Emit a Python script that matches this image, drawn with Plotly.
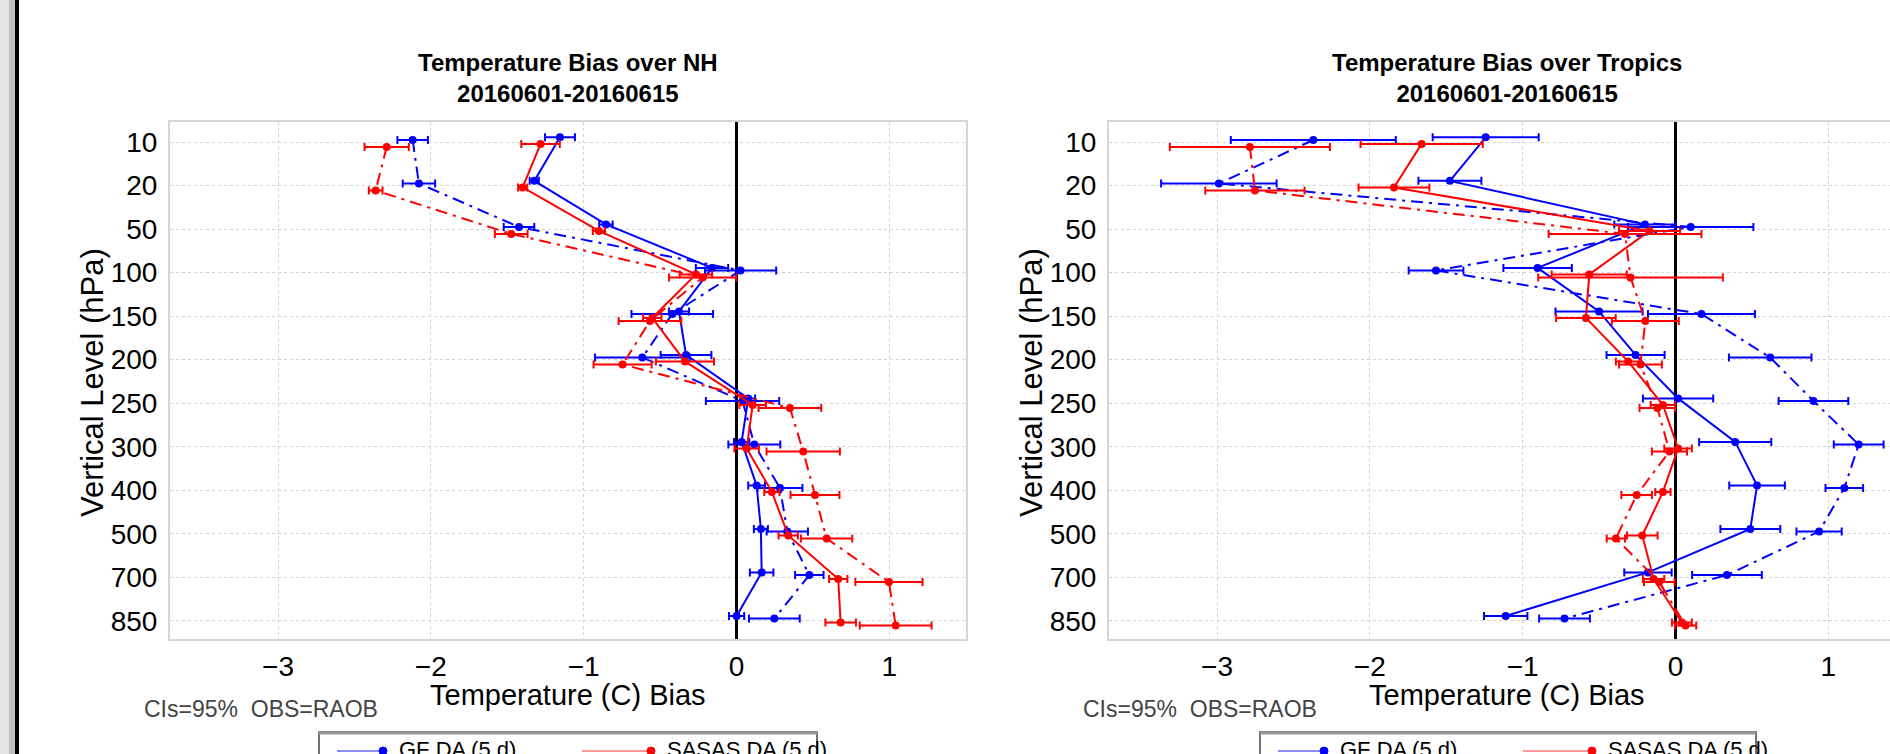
import plotly.graph_objects as go

W, H = 1890, 754

levels = ["10", "20", "50", "100", "150", "200", "250", "300", "400", "500", "700", "850"]
xtick_vals = [-3, -2, -1, 0, 1]

# ---- NH panel ----
nh_gf_5d = [-1.155, -1.323, -0.854, -0.16, -0.376, -0.33, 0.077, 0.034, 0.132, 0.16, 0.165, 0.001]
nh_gf_5d_ci = [0.098, 0.03, 0.044, 0.106, 0.066, 0.166, 0.045, 0.05, 0.055, 0.046, 0.077, 0.05]
nh_gf_1d = [-2.119, -2.078, -1.423, 0.027, -0.42, -0.616, 0.04, 0.117, 0.285, 0.333, 0.477, 0.248]
nh_gf_1d_ci = [0.1, 0.106, 0.1, 0.233, 0.267, 0.31, 0.24, 0.17, 0.147, 0.135, 0.093, 0.166]
nh_sas_5d = [-1.282, -1.399, -0.9, -0.265, -0.551, -0.337, 0.106, 0.067, 0.232, 0.339, 0.666, 0.682]
nh_sas_5d_ci = [0.126, 0.03, 0.04, 0.106, 0.06, 0.19, 0.087, 0.08, 0.05, 0.063, 0.06, 0.1]
nh_sas_1d = [-2.289, -2.361, -1.474, -0.221, -0.566, -0.745, 0.35, 0.437, 0.514, 0.59, 0.998, 1.042]
nh_sas_1d_ci = [0.145, 0.045, 0.107, 0.22, 0.205, 0.19, 0.205, 0.24, 0.16, 0.168, 0.22, 0.235]

# ---- Tropics panel ----
tr_gf_5d = [-1.242, -1.476, -0.2, -0.902, -0.5, -0.261, 0.017, 0.391, 0.534, 0.49, -0.18, -1.111]
tr_gf_5d_ci = [0.347, 0.206, 0.2, 0.224, 0.285, 0.19, 0.23, 0.236, 0.182, 0.196, 0.155, 0.142]
tr_gf_1d = [-2.37, -2.988, 0.1, -1.567, 0.17, 0.62, 0.903, 1.199, 1.105, 0.94, 0.337, -0.726]
tr_gf_1d_ci = [0.54, 0.378, 0.41, 0.179, 0.35, 0.27, 0.228, 0.163, 0.123, 0.148, 0.228, 0.166]
tr_sas_5d = [-1.661, -1.842, -0.17, -0.564, -0.586, -0.31, -0.082, 0.017, -0.082, -0.217, -0.143, 0.042]
tr_sas_5d_ci = [0.4, 0.232, 0.2, 0.246, 0.195, 0.08, 0.08, 0.09, 0.05, 0.1, 0.07, 0.065]
tr_sas_1d = [-2.785, -2.752, -0.33, -0.294, -0.197, -0.229, -0.118, -0.039, -0.254, -0.39, -0.106, 0.066]
tr_sas_1d_ci = [0.524, 0.325, 0.5, 0.604, 0.219, 0.14, 0.117, 0.115, 0.1, 0.06, 0.1, 0.07]

panel_titles = ["Temperature Bias over NH", "Temperature Bias over Tropics"]
period = "20160601-20160615"
x_title = "Temperature (C) Bias"
y_title = "Vertical Level (hPa)"
note = "CIs=95%\u00a0 OBS=RAOB"
legend_names = ["GF DA (5 d)", "SASAS DA (5 d)"]

FONT = "Liberation Sans, Arial, Helvetica, sans-serif"
DASHDOT = "12px,6px,3px,6px"


def px(x):
    return x / W


def py(y):
    return 1 - y / H


fig = go.Figure()

panels = [
    ("", [(nh_gf_5d, nh_gf_5d_ci, "GF DA (5 d)", "#0000ff", "solid", -0.11),
          (nh_gf_1d, nh_gf_1d_ci, "GF DA (1 d)", "#0000ff", DASHDOT, -0.05),
          (nh_sas_5d, nh_sas_5d_ci, "SASAS DA (5 d)", "#ff0000", "solid", 0.04),
          (nh_sas_1d, nh_sas_1d_ci, "SASAS DA (1 d)", "#ff0000", DASHDOT, 0.11)]),
    ("2", [(tr_gf_5d, tr_gf_5d_ci, "GF DA (5 d)", "#0000ff", "solid", -0.11),
           (tr_gf_1d, tr_gf_1d_ci, "GF DA (1 d)", "#0000ff", DASHDOT, -0.05),
           (tr_sas_5d, tr_sas_5d_ci, "SASAS DA (5 d)", "#ff0000", "solid", 0.04),
           (tr_sas_1d, tr_sas_1d_ci, "SASAS DA (1 d)", "#ff0000", DASHDOT, 0.11)]),
]

for suffix, series in panels:
    for vals, ci, name, color, dash, off in series:
        fig.add_trace(go.Scatter(
            x=vals,
            y=[i + off for i in range(len(levels))],
            mode="lines+markers",
            name=name,
            showlegend=False,
            xaxis="x" + suffix,
            yaxis="y" + suffix,
            line=dict(color=color, width=2, dash=dash),
            marker=dict(color=color, size=8),
            error_x=dict(type="data", array=ci, visible=True, color=color,
                         thickness=2, width=4),
        ))

plot_top, plot_bot = 121.7, 639.0
left_x0, left_x1 = 170.0, 965.5
right_x0 = 1109.0

common_x = dict(
    tickvals=xtick_vals, showgrid=True, gridcolor="#d2d2d2", griddash="dot", gridwidth=1,
    zeroline=True, zerolinecolor="black", zerolinewidth=3,
    showline=True, linecolor="#d6d6d6", linewidth=2,
    ticks="outside", ticklen=1, tickcolor="rgba(0,0,0,0)",
    tickfont=dict(size=28, color="black", family=FONT),
)
common_y = dict(
    tickmode="array", tickvals=list(range(len(levels))), ticktext=levels,
    range=[11.42, -0.47], showgrid=True, gridcolor="#d2d2d2", griddash="dot", gridwidth=1,
    zeroline=False, showline=True, linecolor="#d6d6d6", linewidth=2,
    ticks="outside", ticklen=5, tickcolor="rgba(0,0,0,0)",
    tickfont=dict(size=28, color="black", family=FONT),
    domain=[py(plot_bot), py(plot_top)],
)

fig.update_layout(
    width=W, height=H,
    margin=dict(l=0, r=0, t=0, b=0),
    paper_bgcolor="white", plot_bgcolor="white",
    font=dict(family=FONT, color="black"),
    showlegend=False,
    xaxis=dict(common_x, domain=[px(left_x0), px(left_x1)], range=[-3.707, 1.499],
               anchor="y", mirror=True),
    yaxis=dict(common_y, anchor="x", mirror=True),
    xaxis2=dict(common_x, domain=[px(right_x0), 1.0], range=[-3.707, 1.404],
                anchor="y2", mirror=True),
    yaxis2=dict(common_y, anchor="x2", mirror=False),
)

annotations = []
shapes = []
centers = [(left_x0 + left_x1) / 2, (right_x0 + right_x0 + (left_x1 - left_x0)) / 2]
for k, cx in enumerate(centers):
    x_off = 0 if k == 0 else right_x0 - left_x0
    annotations.append(dict(
        text="<b>%s</b><br><b>%s</b>" % (panel_titles[k], period),
        x=px(cx), y=py(78), xref="paper", yref="paper", xanchor="center", yanchor="middle",
        showarrow=False, font=dict(size=24, color="black", family=FONT)))
    annotations.append(dict(
        text=x_title, x=px(cx), y=py(695), xref="paper", yref="paper",
        xanchor="center", yanchor="middle", showarrow=False,
        font=dict(size=29, color="black", family=FONT)))
    annotations.append(dict(
        text=y_title, x=px(92 + x_off), y=py(383), xref="paper", yref="paper",
        xanchor="center", yanchor="middle", textangle=-90, showarrow=False,
        font=dict(size=31, color="black", family=FONT)))
    annotations.append(dict(
        text=note, x=px(142 + x_off), y=py(709), xref="paper", yref="paper",
        xanchor="left", yanchor="middle", showarrow=False,
        font=dict(size=23, color="#444444", family=FONT)))

    # legend box (cut by the bottom edge)
    bx0 = 319 + (0 if k == 0 else 941)
    bx1 = 817 + (0 if k == 0 else 939)
    shapes.append(dict(type="rect", xref="paper", yref="paper",
                       x0=px(bx0), x1=px(bx1), y0=py(770), y1=py(732),
                       line=dict(color="#444444", width=1.5), fillcolor="white"))
    shapes.append(dict(type="line", xref="paper", yref="paper",
                       x0=px(bx0), x1=px(bx1), y0=py(733), y1=py(733),
                       line=dict(color="#9a9a9a", width=3)))
    items = [(bx0 + 18, bx0 + 64, "#0000ff", "#8c8cff", legend_names[0]),
             (bx0 + 263, bx0 + 332, "#ff0000", "#ff9a9a", legend_names[1])]
    for lx0, lx1, col, lcol, txt in items:
        shapes.append(dict(type="line", xref="paper", yref="paper",
                           x0=px(lx0), x1=px(lx1), y0=py(751), y1=py(751),
                           line=dict(color=lcol, width=2)))
        shapes.append(dict(type="circle", xref="paper", yref="paper",
                           x0=px(lx1 - 4), x1=px(lx1 + 4), y0=py(755), y1=py(747),
                           line=dict(color=col, width=1), fillcolor=col))
        annotations.append(dict(
            text=txt, x=px(lx1 + 14), y=py(735), xref="paper", yref="paper",
            xanchor="left", yanchor="top", showarrow=False,
            font=dict(size=22, color="black", family=FONT)))

# window frame at the left edge
shapes.append(dict(type="rect", xref="paper", yref="paper", x0=0, x1=px(9), y0=0, y1=1,
                   line=dict(width=0), fillcolor="#e4e4e4", layer="below"))
shapes.append(dict(type="rect", xref="paper", yref="paper", x0=px(9), x1=px(15), y0=0, y1=1,
                   line=dict(width=0), fillcolor="#c2c2c2", layer="below"))
shapes.append(dict(type="rect", xref="paper", yref="paper", x0=px(15), x1=px(19), y0=0, y1=1,
                   line=dict(width=0), fillcolor="#000000"))

fig.update_layout(annotations=annotations, shapes=shapes)

fig.write_html("out.html")
